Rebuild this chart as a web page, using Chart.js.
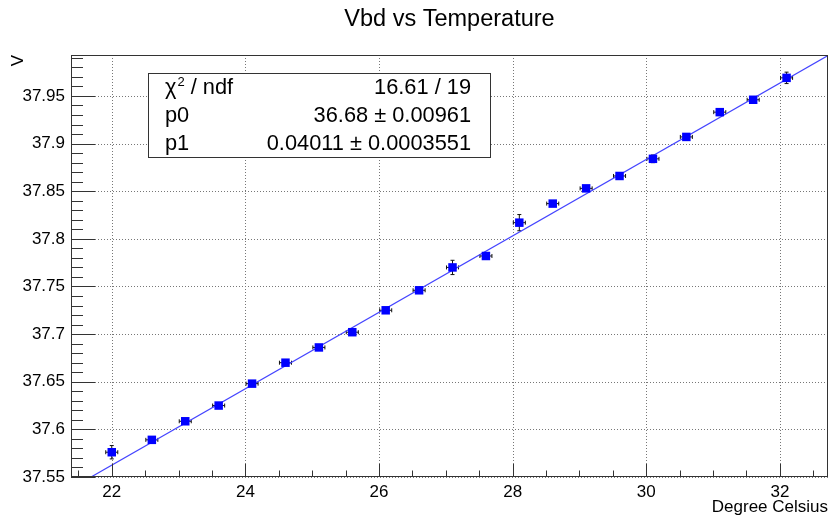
<!DOCTYPE html>
<html>
<head>
<meta charset="utf-8">
<title>Vbd vs Temperature</title>
<script src="https://cdn.jsdelivr.net/npm/chart.js@4.4.1/dist/chart.umd.min.js"></script>
<style>
  html, body { margin: 0; padding: 0; background: #fff; }
  #wrap { width: 830px; height: 516px; }
</style>
</head>
<body>
<div id="wrap"><canvas id="myChart" width="830" height="516"></canvas></div>
<script>
// measured points (temperature in degC, breakdown voltage in V)
var temps = [22.0, 22.6, 23.1, 23.6, 24.1, 24.6, 25.1, 25.6, 26.1, 26.6, 27.1,
             27.6, 28.1, 28.6, 29.1, 29.6, 30.1, 30.6, 31.1, 31.6, 32.1];
var vbd = [37.576, 37.589, 37.6085, 37.625, 37.648, 37.670, 37.686, 37.702, 37.725, 37.746, 37.770,
           37.782, 37.817, 37.837, 37.853, 37.866, 37.884, 37.907, 37.933, 37.946, 37.969];
var tempErr = [0.09, 0.09, 0.09, 0.09, 0.09, 0.09, 0.09, 0.09, 0.09, 0.09, 0.09,
               0.09, 0.09, 0.09, 0.09, 0.09, 0.09, 0.09, 0.09, 0.09, 0.09];
var vbdErr = [0.007, 0.003, 0.003, 0.003, 0.003, 0.003, 0.003, 0.003, 0.003, 0.003, 0.0075,
              0.003, 0.0085, 0.003, 0.003, 0.003, 0.004, 0.003, 0.003, 0.003, 0.006];

// fit result pol1: V = p0 + p1 * T
var p0 = 36.68;
var p1 = 0.04011;
var statNames = ["ndf", "p0", "p1"];
var statValues = ["16.61 / 19", "36.68 \u00b1 0.00961", "0.04011 \u00b1 0.0003551"];

var xRange = [21.39, 32.72];
var yRange = [37.55, 37.993];
var xTicks = [22, 24, 26, 28, 30, 32];
var xTickLabels = ["22", "24", "26", "28", "30", "32"];
var yTicks = [37.55, 37.6, 37.65, 37.7, 37.75, 37.8, 37.85, 37.9, 37.95];
var yTickLabels = ["37.55", "37.6", "37.65", "37.7", "37.75", "37.8", "37.85", "37.9", "37.95"];

var FONT = "'Liberation Sans', Arial, Helvetica, sans-serif";

var points = temps.map(function (t, i) { return { x: t, y: vbd[i] }; });
var fitLine = xRange.map(function (t) { return { x: t, y: p0 + p1 * t }; });

// ROOT-like frame, dotted grid, inward ticks, error bars and stats box
var rootStyle = {
    id: "rootStyle",
    beforeDatasetsDraw: function (chart) {
        var ctx = chart.ctx;
        var a = chart.chartArea;
        var xs = chart.scales.x, ys = chart.scales.y;
        var i, p;
        ctx.save();
        // dotted grid at major ticks
        ctx.strokeStyle = "#777";
        ctx.lineWidth = 1;
        ctx.setLineDash([1, 2]);
        ctx.beginPath();
        for (i = 0; i < xTicks.length; i++) {
            p = Math.round(xs.getPixelForValue(xTicks[i])) + 0.5;
            ctx.moveTo(p, a.top);
            ctx.lineTo(p, a.bottom);
        }
        for (i = 0; i < yTicks.length; i++) {
            p = Math.round(ys.getPixelForValue(yTicks[i])) + 0.5;
            ctx.moveTo(a.left, p);
            ctx.lineTo(a.right, p);
        }
        ctx.stroke();
        ctx.setLineDash([]);

        // error bars
        ctx.strokeStyle = "#111";
        ctx.beginPath();
        for (i = 0; i < temps.length; i++) {
            var px = xs.getPixelForValue(temps[i]);
            var py = ys.getPixelForValue(vbd[i]);
            var xl = xs.getPixelForValue(temps[i] - tempErr[i]);
            var xr = xs.getPixelForValue(temps[i] + tempErr[i]);
            var yt = ys.getPixelForValue(vbd[i] + vbdErr[i]);
            var yb = ys.getPixelForValue(vbd[i] - vbdErr[i]);
            ctx.moveTo(xl, py); ctx.lineTo(xr, py);
            ctx.moveTo(xl, py - 2); ctx.lineTo(xl, py + 2);
            ctx.moveTo(xr, py - 2); ctx.lineTo(xr, py + 2);
            ctx.moveTo(px, yt); ctx.lineTo(px, yb);
            ctx.moveTo(px - 2, yt); ctx.lineTo(px + 2, yt);
            ctx.moveTo(px - 2, yb); ctx.lineTo(px + 2, yb);
        }
        ctx.stroke();
        ctx.restore();
    },
    afterDraw: function (chart) {
        var ctx = chart.ctx;
        var a = chart.chartArea;
        var xs = chart.scales.x, ys = chart.scales.y;
        ctx.save();
        ctx.strokeStyle = "#333";
        ctx.lineWidth = 1;
        // frame
        ctx.strokeRect(Math.round(a.left) + 0.5, Math.round(a.top) + 0.5,
                       Math.round(a.right - a.left) - 1, Math.round(a.bottom - a.top) - 1);
        // x ticks (major every 2, minor every 0.5)
        ctx.beginPath();
        var v, p;
        for (v = 21.5; v <= xRange[1] + 1e-9; v += 0.5) {
            p = Math.round(xs.getPixelForValue(v)) + 0.5;
            var major = Math.abs(v / 2 - Math.round(v / 2)) < 1e-6;
            ctx.moveTo(p, a.bottom);
            ctx.lineTo(p, a.bottom - (major ? 13 : 6.5));
        }
        // y ticks (major every 0.05, minor every 0.01)
        for (var k = 0; k * 0.01 + yRange[0] <= yRange[1] + 1e-9; k++) {
            v = yRange[0] + k * 0.01;
            p = Math.round(ys.getPixelForValue(v)) + 0.5;
            ctx.moveTo(a.left, p);
            ctx.lineTo(a.left + (k % 5 === 0 ? 24 : 12), p);
        }
        ctx.stroke();

        // stats box
        var bx = 148, by = 73, bw = 342, bh = 84;
        ctx.fillStyle = "#fff";
        ctx.fillRect(bx, by, bw, bh);
        ctx.strokeStyle = "#333";
        ctx.strokeRect(bx + 0.5, by + 0.5, bw, bh);
        ctx.fillStyle = "#000";
        ctx.textBaseline = "middle";
        var rows = [88, 116, 144];
        var big = "21.8px " + FONT;
        ctx.font = big;
        // chi2 label with superscript
        ctx.textAlign = "left";
        ctx.fillText("\u03c7", 165, rows[0]);
        var cw = ctx.measureText("\u03c7").width;
        ctx.font = "13px " + FONT;
        ctx.fillText("2", 165 + cw + 1, rows[0] - 6);
        var sw = ctx.measureText("2").width;
        ctx.font = big;
        ctx.fillText(" / " + statNames[0], 165 + cw + 1 + sw, rows[0]);
        ctx.fillText(statNames[1], 165, rows[1]);
        ctx.fillText(statNames[2], 165, rows[2]);
        ctx.textAlign = "right";
        for (var r = 0; r < 3; r++) {
            ctx.fillText(statValues[r], 471, rows[r]);
        }
        ctx.restore();
    }
};

new Chart("myChart", {
    type: "scatter",
    data: {
        datasets: [
            {
                type: "line",
                data: fitLine,
                borderColor: "#4444ff",
                borderWidth: 1.2,
                pointRadius: 0,
                fill: false,
                order: 2
            },
            {
                data: points,
                pointStyle: "rect",
                pointRadius: 6,
                pointHoverRadius: 6,
                backgroundColor: "#0000ff",
                borderColor: "#0000ff",
                borderWidth: 0,
                order: 1
            }
        ]
    },
    options: {
        responsive: false,
        devicePixelRatio: 1,
        animation: false,
        events: [],
        layout: { autoPadding: false, padding: { top: 0, right: 2, bottom: 0, left: 0 } },
        plugins: {
            legend: { display: false },
            tooltip: { enabled: false },
            title: {
                display: true,
                text: "Vbd vs Temperature",
                fullSize: false,
                color: "#000",
                font: { family: FONT, size: 23.5, weight: "normal", lineHeight: 1.2 },
                padding: { top: 5, bottom: 21.8 }
            }
        },
        scales: {
            x: {
                type: "linear",
                min: xRange[0],
                max: xRange[1],
                afterBuildTicks: function (scale) {
                    scale.ticks = xTicks.map(function (v) { return { value: v }; });
                },
                afterFit: function (scale) { scale.height = 39; },
                ticks: {
                    color: "#000",
                    padding: 5,
                    maxRotation: 0,
                    font: { family: FONT, size: 17 },
                    callback: function (value) {
                        var i = xTicks.indexOf(value);
                        return i >= 0 ? xTickLabels[i] : "";
                    }
                },
                grid: { display: false, drawTicks: false },
                border: { display: false },
                title: {
                    display: true,
                    text: "Degree Celsius",
                    align: "end",
                    color: "#000",
                    font: { family: FONT, size: 17, lineHeight: 1 },
                    padding: 0
                }
            },
            y: {
                type: "linear",
                min: yRange[0],
                max: yRange[1],
                afterBuildTicks: function (scale) {
                    scale.ticks = yTicks.map(function (v) { return { value: v }; });
                },
                afterFit: function (scale) { scale.width = 71; },
                ticks: {
                    color: "#000",
                    padding: 6,
                    font: { family: FONT, size: 17 },
                    callback: function (value) {
                        for (var i = 0; i < yTicks.length; i++) {
                            if (Math.abs(yTicks[i] - value) < 1e-9) return yTickLabels[i];
                        }
                        return "";
                    }
                },
                grid: { display: false, drawTicks: false },
                border: { display: false },
                title: {
                    display: true,
                    text: "V",
                    align: "end",
                    color: "#000",
                    font: { family: FONT, size: 17, lineHeight: 1 },
                    padding: { top: 10, bottom: 0 }
                }
            }
        }
    },
    plugins: [rootStyle]
});
</script>
</body>
</html>
